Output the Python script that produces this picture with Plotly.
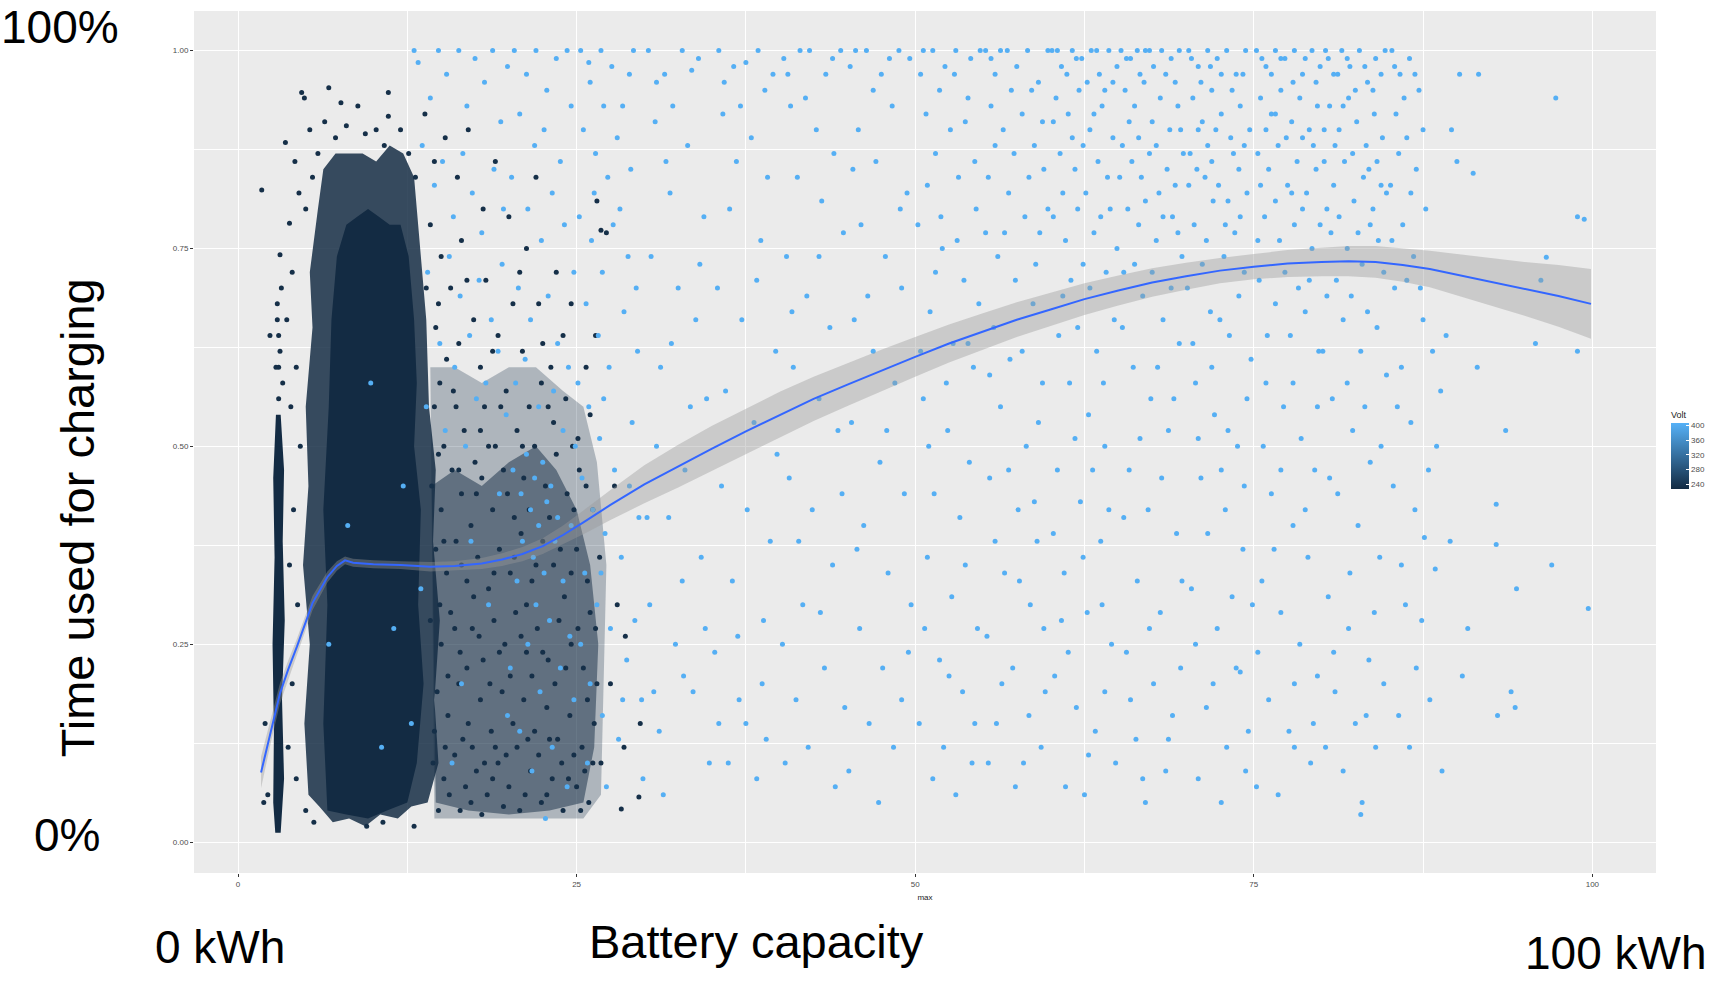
import plotly.graph_objects as go

# ---------------- data ----------------
# smooth (loess) fit and its confidence band
smooth_x = [1.7, 2.4, 3.1, 3.7, 4.35, 5.5, 6.6, 7.3, 7.9, 8.5, 10.0, 12.0, 14.2, 16.0, 18.0, 19.5, 21.0, 22.5,
            24.0, 25.5, 27.5, 30.0, 32.5, 35.0, 37.5, 40.0, 42.5, 45.0, 47.5, 50.0, 52.5, 55.0, 57.5, 60.0,
            62.5, 65.0, 67.5, 70.0, 72.5, 75.0, 77.5, 80.0, 82.0, 84.0, 86.0, 88.0, 90.0, 92.5, 95.0, 97.5, 99.9]
smooth_y = [0.088, 0.140, 0.188, 0.218, 0.247, 0.302, 0.335, 0.349, 0.356, 0.353, 0.351, 0.350, 0.348, 0.349,
            0.352, 0.357, 0.364, 0.374, 0.388, 0.404, 0.426, 0.452, 0.475, 0.497, 0.519, 0.540, 0.560, 0.578,
            0.596, 0.613, 0.630, 0.645, 0.660, 0.673, 0.686, 0.697, 0.707, 0.715, 0.722, 0.727, 0.731, 0.733,
            0.734, 0.733, 0.729, 0.724, 0.717, 0.708, 0.699, 0.690, 0.680]
smooth_lo = [0.068, 0.124, 0.175, 0.207, 0.237, 0.293, 0.328, 0.343, 0.351, 0.348, 0.346, 0.345, 0.342, 0.343,
             0.345, 0.349, 0.355, 0.364, 0.376, 0.389, 0.407, 0.428, 0.448, 0.468, 0.490, 0.511, 0.532, 0.551,
             0.570, 0.588, 0.606, 0.622, 0.638, 0.652, 0.666, 0.678, 0.689, 0.698, 0.706, 0.711, 0.714, 0.715,
             0.715, 0.713, 0.708, 0.701, 0.691, 0.678, 0.665, 0.651, 0.636]
smooth_hi = [0.108, 0.156, 0.201, 0.229, 0.257, 0.311, 0.342, 0.355, 0.361, 0.358, 0.356, 0.355, 0.354, 0.355,
             0.359, 0.365, 0.373, 0.384, 0.400, 0.419, 0.445, 0.476, 0.502, 0.526, 0.548, 0.569, 0.588, 0.605,
             0.622, 0.638, 0.654, 0.668, 0.682, 0.694, 0.706, 0.716, 0.725, 0.732, 0.738, 0.743, 0.748, 0.751,
             0.753, 0.753, 0.750, 0.747, 0.743, 0.738, 0.733, 0.729, 0.724]

# outlines of the overplotted (solid) low-voltage clusters
outer_x = [5.2, 4.9, 5.3, 4.8, 5.2, 5.0, 5.5, 5.3, 5.9, 6.3, 7.2, 8.2, 9.2, 10.2, 11.2, 12.2, 13.0, 13.4,
           13.9, 14.1, 14.6, 14.4, 14.9, 14.5, 14.8, 14.0, 12.8, 11.8, 10.5, 9.4, 8.2, 7.0, 6.0]
outer_y = [0.06, 0.15, 0.25, 0.35, 0.45, 0.55, 0.65, 0.72, 0.80, 0.85, 0.87, 0.87, 0.87, 0.86, 0.88, 0.87,
           0.84, 0.76, 0.66, 0.55, 0.47, 0.38, 0.28, 0.18, 0.10, 0.05, 0.045, 0.03, 0.035, 0.02, 0.03, 0.025, 0.045]
core_x = [6.6, 6.3, 6.6, 6.3, 6.7, 6.9, 7.3, 8.0, 8.8, 9.6, 10.4, 11.2, 12.0, 12.6, 13.0, 13.2, 13.0, 13.5,
          13.3, 13.7, 13.2, 12.5, 11.0, 9.6, 8.0]
core_y = [0.04, 0.15, 0.30, 0.42, 0.55, 0.66, 0.74, 0.78, 0.79, 0.80, 0.79, 0.78, 0.78, 0.74, 0.66, 0.58, 0.50,
          0.42, 0.30, 0.20, 0.10, 0.05, 0.04, 0.03, 0.035]
column_x = [2.75, 3.15, 3.4, 3.25, 3.45, 3.3, 3.4, 3.15, 2.8, 2.6, 2.7, 2.55, 2.65, 2.6]
column_y = [0.012, 0.012, 0.08, 0.18, 0.28, 0.38, 0.47, 0.54, 0.54, 0.46, 0.36, 0.25, 0.14, 0.05]
speckle_x = [14.2, 16.0, 18.0, 20.0, 22.0, 24.0, 25.5, 26.5, 27.2, 27.0, 26.8, 25.5, 14.5]
speckle_y = [0.60, 0.60, 0.58, 0.60, 0.60, 0.57, 0.55, 0.48, 0.35, 0.20, 0.06, 0.03, 0.03]
speckle_core_x = [14.3, 16.0, 18.0, 20.0, 22.0, 23.5, 25.0, 26.0, 26.6, 26.3, 25.5, 23.0, 20.0, 17.0, 14.6]
speckle_core_y = [0.45, 0.47, 0.45, 0.48, 0.50, 0.47, 0.42, 0.35, 0.25, 0.12, 0.05, 0.04, 0.035, 0.04, 0.05]

# individual low-voltage points
dark_pts = [
    (1.75, 0.824), (2.36, 0.64), (3.1, 0.742), (3.5, 0.884), (3.8, 0.782), (4.7, 0.947), (4.9, 0.94), (6.7, 0.953),
    (7.6, 0.934), (8.85, 0.93), (11.1, 0.947), (11.1, 0.917), (5.3, 0.9), (5.9, 0.87), (6.4, 0.91), (7.2, 0.89),
    (8.0, 0.905), (9.4, 0.895), (10.2, 0.9), (10.8, 0.88), (12.0, 0.9), (12.6, 0.87), (13.1, 0.84), (4.2, 0.86),
    (4.5, 0.82), (5.0, 0.8), (5.5, 0.84), (4.0, 0.72), (3.6, 0.66), (4.3, 0.6), (3.9, 0.55), (4.6, 0.5), (4.1, 0.42),
    (3.8, 0.35), (4.4, 0.3), (4.0, 0.2), (3.7, 0.12), (4.3, 0.08), (1.9, 0.05), (2.0, 0.15), (2.2, 0.06), (5.0, 0.04),
    (5.6, 0.025), (9.5, 0.02), (10.7, 0.025), (13.0, 0.02), (14.8, 0.04), (3.0, 0.6), (2.9, 0.66), (3.2, 0.7),
    (2.8, 0.6), (3.0, 0.64), (3.3, 0.58), (2.9, 0.68), (3.0, 0.56), (3.1, 0.62),
    (13.8, 0.92), (14.5, 0.86), (15.3, 0.89), (16.2, 0.84), (17.0, 0.9), (18.1, 0.8), (19.0, 0.86), (20.0, 0.79),
    (21.3, 0.75), (22.0, 0.84), (23.5, 0.72), (24.6, 0.68), (26.8, 0.773), (27.2, 0.77), (26.5, 0.81), (14.2, 0.78),
    (15.0, 0.74), (15.7, 0.7), (16.5, 0.76), (17.4, 0.66), (18.3, 0.71), (19.2, 0.64), (20.3, 0.68), (21.0, 0.62),
    (22.5, 0.63), (23.1, 0.6), (14.6, 0.65), (15.4, 0.61), (16.3, 0.63), (17.9, 0.6), (13.9, 0.7),
    (14.8, 0.68), (16.9, 0.71), (18.8, 0.62), (20.8, 0.72), (22.2, 0.68), (24.0, 0.64), (25.7, 0.6), (26.4, 0.64),
    (14.5, 0.55), (15.2, 0.5), (15.9, 0.57), (16.7, 0.52), (17.5, 0.48), (18.2, 0.55), (19.0, 0.5), (19.8, 0.57),
    (20.6, 0.52), (21.5, 0.55), (22.4, 0.58), (23.3, 0.53), (24.2, 0.56), (25.1, 0.51), (26.0, 0.54),
    (14.3, 0.45), (15.0, 0.42), (15.8, 0.47), (16.5, 0.44), (17.2, 0.4), (18.0, 0.46), (18.8, 0.42), (19.6, 0.47),
    (20.4, 0.41), (21.1, 0.46), (21.9, 0.5), (22.7, 0.45), (23.5, 0.49), (24.3, 0.44), (25.2, 0.47), (26.2, 0.42),
    (14.6, 0.37), (15.4, 0.34), (16.1, 0.38), (16.9, 0.33), (17.7, 0.36), (18.5, 0.32), (19.3, 0.37), (20.1, 0.34),
    (20.9, 0.39), (21.7, 0.33), (22.5, 0.38), (23.3, 0.35), (24.1, 0.31), (25.0, 0.37), (25.8, 0.33), (26.7, 0.36),
    (14.2, 0.28), (15.0, 0.25), (15.7, 0.29), (16.4, 0.24), (17.3, 0.27), (18.1, 0.23), (18.9, 0.28), (19.7, 0.25),
    (20.5, 0.29), (21.3, 0.24), (22.1, 0.27), (22.9, 0.23), (23.7, 0.28), (24.6, 0.25), (25.5, 0.22), (26.4, 0.27),
    (14.7, 0.19), (15.5, 0.16), (16.3, 0.2), (17.0, 0.15), (17.9, 0.18), (18.7, 0.14), (19.5, 0.19), (20.3, 0.15),
    (21.1, 0.18), (21.9, 0.14), (22.8, 0.17), (23.6, 0.13), (24.5, 0.16), (25.4, 0.12), (26.3, 0.15),
    (14.4, 0.1), (15.2, 0.08), (16.0, 0.11), (16.8, 0.07), (17.6, 0.09), (18.4, 0.06), (19.2, 0.1), (20.0, 0.07),
    (20.8, 0.04), (21.6, 0.09), (22.4, 0.05), (23.2, 0.08), (24.0, 0.04), (25.0, 0.07), (25.9, 0.05), (26.8, 0.1),
    (14.9, 0.58), (16.1, 0.55), (17.9, 0.52), (19.4, 0.55), (21.0, 0.5), (22.9, 0.55), (24.7, 0.5),
    (14.8, 0.49), (16.3, 0.47), (17.6, 0.44), (18.5, 0.5), (19.9, 0.44), (21.5, 0.42), (23.0, 0.41), (24.8, 0.42),
    (25.7, 0.45), (15.2, 0.38), (16.5, 0.35), (17.4, 0.31), (18.9, 0.34), (20.4, 0.36), (21.3, 0.3), (22.0, 0.35),
    (23.8, 0.37), (24.6, 0.34), (26.0, 0.29), (14.9, 0.3), (15.5, 0.21), (16.0, 0.27), (16.9, 0.22), (17.8, 0.26),
    (18.6, 0.2), (19.3, 0.24), (20.1, 0.21), (20.9, 0.26), (21.7, 0.21), (22.5, 0.24), (23.4, 0.2), (24.2, 0.22),
    (25.1, 0.27), (25.8, 0.18), (14.5, 0.14), (15.3, 0.12), (16.6, 0.13), (17.3, 0.12), (18.2, 0.1), (19.0, 0.12),
    (19.8, 0.11), (20.6, 0.12), (21.4, 0.13), (22.2, 0.11), (23.0, 0.13), (23.9, 0.1), (24.8, 0.11), (25.6, 0.09),
    (26.5, 0.2), (15.6, 0.06), (16.4, 0.04), (17.2, 0.05), (18.0, 0.035), (18.8, 0.08), (19.6, 0.045), (21.2, 0.06),
    (22.8, 0.06), (24.4, 0.08), (25.3, 0.04), (26.2, 0.1),
    (28.5, 0.12), (29.6, 0.057), (28.3, 0.042), (29.7, 0.15), (27.5, 0.2), (28.0, 0.3), (27.8, 0.45), (28.6, 0.26),
]

# individual high-voltage points
blue_pts = [
    (13.0, 1.0), (13.3, 0.985), (14.2, 0.94), (14.8, 1.0), (15.4, 0.97), (16.3, 1.0), (16.9, 0.93), (17.5, 0.99),
    (18.2, 0.96), (18.8, 1.0), (19.4, 0.91), (19.9, 0.98), (13.6, 0.88), (14.5, 0.83), (15.1, 0.86), (15.9, 0.79),
    (16.6, 0.87), (17.3, 0.82), (18.0, 0.77), (18.9, 0.85), (19.6, 0.8), (14.0, 0.72), (15.6, 0.74), (16.4, 0.69),
    (17.8, 0.71), (18.7, 0.66), (19.5, 0.73), (14.9, 0.63), (16.0, 0.6), (17.1, 0.64), (18.3, 0.58), (19.2, 0.62),
    (13.9, 0.55), (15.3, 0.52), (16.8, 0.5), (17.6, 0.56), (19.8, 0.54), (12.2, 0.45), (11.5, 0.27), (9.8, 0.58),
    (8.1, 0.4), (12.8, 0.15), (10.6, 0.12), (6.7, 0.25), (13.5, 0.32), (15.8, 0.1), (16.5, 0.2), (17.2, 0.38),
    (18.5, 0.3), (19.3, 0.44), (19.9, 0.16),
    (20.4, 1.0), (21.3, 0.97), (22.0, 1.0), (22.8, 0.95), (23.5, 0.99), (24.3, 1.0), (20.8, 0.92), (21.9, 0.88),
    (22.6, 0.9), (23.8, 0.86), (24.6, 0.93), (20.2, 0.84), (21.4, 0.8), (22.4, 0.76), (23.2, 0.82), (24.1, 0.78),
    (24.8, 0.72), (20.7, 0.7), (21.6, 0.66), (22.9, 0.69), (23.6, 0.63), (24.4, 0.6), (20.5, 0.58), (21.2, 0.61),
    (22.2, 0.55), (23.3, 0.57), (24.0, 0.52), (24.9, 0.5), (20.3, 0.47), (20.9, 0.44), (21.3, 0.49), (21.6, 0.42),
    (21.9, 0.46), (22.2, 0.4), (22.5, 0.48), (22.8, 0.43), (23.1, 0.45), (23.4, 0.38), (21.0, 0.38), (21.8, 0.36),
    (22.6, 0.34), (23.6, 0.41), (20.6, 0.33), (22.0, 0.3), (23.0, 0.28), (21.4, 0.25), (24.0, 0.33), (24.5, 0.26),
    (23.8, 0.22), (22.3, 0.19), (20.8, 0.14), (21.7, 0.09), (23.2, 0.12), (24.3, 0.07), (22.7, 0.03), (24.8, 0.18),
    (20.1, 0.22), (24.6, 0.4),
    (25.3, 1.0), (26.0, 0.96), (26.8, 1.0), (27.6, 0.98), (28.4, 0.93), (29.2, 1.0), (25.5, 0.9), (26.4, 0.87),
    (27.3, 0.84), (28.0, 0.89), (29.0, 0.85), (25.2, 0.79), (26.1, 0.76), (26.9, 0.72), (27.7, 0.78), (28.8, 0.74),
    (25.7, 0.68), (26.6, 0.64), (27.4, 0.6), (28.5, 0.67), (29.5, 0.62), (25.1, 0.58), (25.9, 0.55), (26.7, 0.51),
    (27.8, 0.47), (29.1, 0.53), (25.4, 0.46), (26.2, 0.42), (27.1, 0.39), (28.3, 0.36), (29.6, 0.41), (25.6, 0.34),
    (26.5, 0.3), (27.5, 0.27), (28.7, 0.23), (25.3, 0.25), (26.0, 0.2), (26.9, 0.16), (28.1, 0.13), (29.3, 0.28),
    (25.8, 0.1), (27.2, 0.07), (29.8, 0.18),
    (25.9, 0.985), (27.0, 0.93), (28.9, 0.97), (26.3, 0.82), (28.2, 0.8), (29.4, 0.7), (27.0, 0.56), (28.9, 0.45),
    (26.8, 0.34), (28.4, 0.18), (29.9, 0.08),
    (30.3, 1.0), (31.5, 0.97), (32.8, 1.0), (34.0, 0.99), (30.8, 0.91), (33.2, 0.88), (31.9, 0.82), (34.4, 0.79),
    (30.5, 0.74), (32.5, 0.7), (33.8, 0.66), (31.2, 0.6), (34.6, 0.56), (30.9, 0.5), (33.0, 0.47), (31.8, 0.41),
    (34.2, 0.36), (30.4, 0.3), (32.3, 0.25), (33.6, 0.19), (31.1, 0.14), (34.8, 0.1), (32.9, 0.21), (30.7, 0.19),
    (30.9, 0.96), (32.1, 0.93), (33.5, 0.975), (31.6, 0.86), (34.1, 0.73), (32.0, 0.63), (33.4, 0.55), (30.2, 0.41),
    (32.8, 0.33), (34.5, 0.27), (31.4, 0.06),
    (35.5, 1.0), (36.6, 0.98), (37.5, 0.985), (38.4, 1.0), (39.5, 0.97), (35.8, 0.92), (37.9, 0.89), (39.1, 0.84),
    (36.3, 0.8), (38.6, 0.76), (35.4, 0.7), (37.2, 0.66), (39.7, 0.62), (36.0, 0.57), (38.1, 0.53), (35.7, 0.45),
    (37.6, 0.42), (39.3, 0.38), (36.5, 0.33), (38.8, 0.28), (35.2, 0.24), (37.0, 0.18), (39.0, 0.13), (36.2, 0.1),
    (38.3, 0.08), (37.5, 0.15),
    (35.9, 0.96), (37.1, 0.93), (38.9, 0.95), (36.8, 0.86), (38.3, 0.71), (39.8, 0.49), (36.9, 0.26), (35.5, 0.15),
    (38.7, 0.2),
    (40.3, 0.99), (41.5, 1.0), (42.2, 1.0), (43.4, 0.97), (44.5, 1.0), (40.8, 0.93), (42.7, 0.9), (44.0, 0.87),
    (41.3, 0.84), (43.1, 0.81), (44.7, 0.77), (40.5, 0.74), (42.0, 0.69), (43.7, 0.65), (41.0, 0.6), (42.9, 0.56),
    (44.3, 0.52), (40.7, 0.46), (42.4, 0.42), (43.9, 0.35), (41.7, 0.3), (40.2, 0.25), (43.3, 0.22), (44.8, 0.17),
    (42.1, 0.12), (44.1, 0.07), (41.2, 0.18),
    (40.6, 0.97), (41.9, 0.94), (43.9, 0.99), (42.9, 0.74), (40.9, 0.67), (44.6, 0.44), (41.4, 0.38), (43.0, 0.29),
    (40.4, 0.1),
    (45.2, 0.98), (46.4, 1.0), (47.5, 0.97), (48.8, 1.0), (49.6, 0.99), (45.8, 0.9), (47.1, 0.86), (48.3, 0.93),
    (49.4, 0.82), (46.0, 0.78), (47.8, 0.74), (49.0, 0.7), (45.5, 0.66), (46.9, 0.62), (48.5, 0.58), (45.3, 0.53),
    (47.4, 0.48), (49.2, 0.44), (46.2, 0.4), (48.0, 0.34), (49.7, 0.3), (45.9, 0.27), (47.6, 0.22), (49.0, 0.18),
    (46.6, 0.15), (48.4, 0.12), (45.1, 0.09),
    (45.6, 1.0), (46.9, 0.95), (48.1, 0.99), (45.4, 0.85), (48.9, 0.8), (46.5, 0.69), (47.9, 0.52), (45.7, 0.37),
    (49.5, 0.24), (47.3, 0.05),
    (50.4, 0.97), (51.3, 1.0), (52.2, 0.98), (53.0, 1.0), (54.1, 0.99), (54.8, 1.0), (50.8, 0.92), (52.6, 0.9),
    (53.9, 0.94), (51.5, 0.87), (53.2, 0.84), (54.5, 0.8), (50.2, 0.78), (52.0, 0.75), (53.6, 0.71), (51.1, 0.67),
    (52.8, 0.63), (54.3, 0.6), (50.6, 0.56), (52.4, 0.52), (54.0, 0.48), (51.4, 0.44), (53.3, 0.41), (50.9, 0.36),
    (52.7, 0.31), (54.6, 0.27), (51.8, 0.23), (53.5, 0.19), (50.3, 0.15), (52.1, 0.12), (54.2, 0.1), (53.0, 0.06),
    (50.6, 1.0), (51.8, 0.95), (52.9, 0.97), (53.7, 0.91), (54.4, 0.86), (50.9, 0.83), (51.9, 0.79), (53.1, 0.76),
    (54.7, 0.68), (51.5, 0.72), (53.9, 0.63), (50.4, 0.62), (52.3, 0.58), (51.0, 0.5), (53.7, 0.35), (50.7, 0.27),
    (52.5, 0.21), (54.4, 0.15), (51.3, 0.08),
    (55.2, 1.0), (55.9, 0.97), (56.8, 1.0), (57.5, 0.98), (58.3, 1.0), (59.1, 0.96), (59.8, 1.0), (55.6, 0.93),
    (56.5, 0.9), (57.9, 0.92), (58.8, 0.88), (59.5, 0.85), (55.4, 0.84), (56.9, 0.82), (58.1, 0.79), (59.2, 0.77),
    (56.1, 0.74), (57.4, 0.71), (58.7, 0.68), (55.8, 0.65), (57.0, 0.61), (59.4, 0.58), (56.3, 0.55), (58.2, 0.5),
    (55.5, 0.46), (57.6, 0.42), (59.0, 0.38), (56.6, 0.34), (58.5, 0.3), (55.3, 0.26), (57.2, 0.22), (59.6, 0.19),
    (56.0, 0.15), (58.0, 0.1), (57.4, 0.07), (59.3, 0.12),
    (55.6, 0.99), (56.3, 1.0), (57.1, 0.95), (58.6, 0.95), (59.4, 0.91), (55.9, 0.88), (57.3, 0.87), (58.4, 0.84),
    (59.8, 0.8), (55.2, 0.77), (56.6, 0.77), (58.9, 0.73), (55.5, 0.59), (57.9, 0.62), (59.1, 0.53), (56.9, 0.47),
    (58.8, 0.43), (55.9, 0.38), (57.7, 0.33), (59.5, 0.27), (56.4, 0.2), (58.4, 0.16), (55.4, 0.1),
    (60.1, 1.0), (60.8, 0.98), (61.6, 1.0), (62.3, 0.99), (63.0, 1.0), (63.6, 0.97), (64.3, 1.0), (64.9, 0.98),
    (60.4, 0.94), (61.3, 0.92), (62.1, 0.95), (62.9, 0.9), (63.8, 0.93), (64.6, 0.89), (60.7, 0.87), (61.8, 0.85),
    (62.6, 0.82), (63.5, 0.86), (64.4, 0.8), (60.2, 0.79), (61.1, 0.76), (62.4, 0.73), (63.2, 0.77), (64.1, 0.72),
    (60.9, 0.69), (62.0, 0.65), (63.4, 0.62), (64.7, 0.66), (61.4, 0.58), (62.8, 0.54), (64.0, 0.5), (60.5, 0.47),
    (62.2, 0.43), (63.7, 0.38), (61.0, 0.34), (62.7, 0.29), (64.5, 0.25), (60.3, 0.21), (61.9, 0.17), (63.3, 0.14),
    (64.8, 0.1), (62.5, 0.06), (60.8, 0.28),
    (60.5, 1.0), (61.2, 0.97), (61.9, 0.99), (62.7, 0.96), (63.4, 1.0), (64.0, 0.95), (64.6, 0.96), (60.2, 0.91),
    (61.6, 0.89), (62.4, 0.88), (63.2, 0.92), (64.2, 0.84), (60.9, 0.82), (62.0, 0.8), (63.7, 0.79), (64.9, 0.75),
    (61.5, 0.71), (62.9, 0.7), (60.6, 0.64), (63.9, 0.58), (61.8, 0.51), (63.1, 0.47), (64.3, 0.42), (60.2, 0.39),
    (62.4, 0.36), (63.8, 0.3), (61.3, 0.24), (64.0, 0.19), (62.8, 0.11), (61.1, 0.07),
    (65.2, 1.0), (65.9, 0.99), (66.4, 1.0), (67.0, 1.0), (67.6, 0.98), (68.2, 1.0), (68.9, 0.99), (69.5, 1.0),
    (65.5, 0.95), (66.2, 0.93), (66.9, 0.96), (67.5, 0.91), (68.1, 0.94), (68.8, 0.9), (69.4, 0.93), (65.3, 0.88),
    (66.0, 0.86), (66.7, 0.84), (67.3, 0.87), (68.0, 0.82), (68.6, 0.85), (69.2, 0.83), (69.8, 0.87), (65.7, 0.8),
    (66.5, 0.78), (67.8, 0.76), (69.0, 0.79), (69.7, 0.74), (65.4, 0.72), (66.8, 0.69), (68.3, 0.66), (69.5, 0.63),
    (66.1, 0.6), (67.4, 0.56), (68.7, 0.52), (65.8, 0.47), (67.2, 0.42), (69.3, 0.39), (66.4, 0.33), (68.1, 0.29),
    (65.6, 0.24), (67.6, 0.2), (69.0, 0.16), (66.3, 0.13), (68.5, 0.09), (67.0, 0.05), (69.6, 0.22),
    (65.6, 0.99), (66.6, 0.97), (67.3, 1.0), (68.5, 0.97), (69.2, 0.96), (65.8, 0.91), (66.5, 0.89), (67.8, 0.88),
    (69.6, 0.9), (65.1, 0.84), (67.0, 0.81), (68.3, 0.79), (69.4, 0.77), (66.2, 0.73), (67.5, 0.72), (68.9, 0.7),
    (65.3, 0.65), (67.9, 0.6), (69.1, 0.56), (66.6, 0.51), (68.2, 0.46), (65.4, 0.41), (69.7, 0.33), (67.3, 0.27),
    (65.9, 0.18), (68.7, 0.13), (66.8, 0.08),
    (70.2, 1.0), (70.9, 0.98), (71.6, 1.0), (72.3, 0.99), (73.0, 1.0), (73.7, 0.97), (74.4, 1.0), (70.5, 0.94),
    (71.2, 0.91), (71.9, 0.95), (72.6, 0.92), (73.3, 0.89), (74.0, 0.93), (74.7, 0.9), (70.3, 0.87), (70.8, 0.85),
    (71.4, 0.84), (71.9, 0.86), (72.4, 0.83), (73.1, 0.81), (73.9, 0.85), (74.5, 0.82), (70.6, 0.78), (71.5, 0.76),
    (72.8, 0.74), (73.6, 0.77), (74.3, 0.72), (70.1, 0.7), (71.8, 0.67), (73.2, 0.64), (74.8, 0.61), (70.7, 0.58),
    (72.1, 0.54), (73.8, 0.5), (71.1, 0.46), (72.9, 0.42), (74.2, 0.37), (70.4, 0.32), (72.3, 0.27), (73.7, 0.22),
    (74.0, 0.215), (71.5, 0.17), (73.0, 0.12), (70.9, 0.08), (74.6, 0.14), (72.6, 0.05), (74.9, 0.3),
    (70.4, 0.99), (71.1, 0.96), (71.8, 0.98), (72.6, 0.97), (73.4, 0.95), (74.2, 0.97), (70.9, 0.9), (71.6, 0.88),
    (72.2, 0.9), (73.5, 0.87), (74.3, 0.88), (70.2, 0.83), (72.0, 0.81), (72.9, 0.78), (74.0, 0.79), (71.2, 0.73),
    (73.9, 0.69), (72.5, 0.66), (70.5, 0.63), (71.9, 0.6), (74.5, 0.56), (73.1, 0.52), (70.9, 0.51), (72.6, 0.47),
    (74.3, 0.45), (71.6, 0.39), (73.4, 0.31), (70.7, 0.25), (72.0, 0.2), (74.4, 0.09),
    (75.2, 1.0), (75.9, 0.98), (76.6, 1.0), (77.3, 0.99), (78.0, 1.0), (78.6, 0.97), (79.3, 1.0), (79.9, 0.98),
    (75.5, 0.94), (76.3, 0.92), (77.0, 0.95), (77.8, 0.91), (78.4, 0.94), (79.1, 0.9), (79.7, 0.93), (75.3, 0.87),
    (76.1, 0.85), (76.8, 0.88), (77.5, 0.83), (78.2, 0.86), (78.9, 0.82), (79.6, 0.85), (75.8, 0.79), (76.9, 0.76),
    (78.0, 0.78), (79.3, 0.75), (75.4, 0.71), (76.6, 0.68), (77.7, 0.64), (78.8, 0.67), (79.8, 0.62), (75.9, 0.58),
    (77.2, 0.55), (78.5, 0.51), (79.5, 0.47), (76.3, 0.44), (77.9, 0.4), (79.0, 0.36), (75.6, 0.33), (77.0, 0.29),
    (78.4, 0.25), (79.7, 0.21), (76.1, 0.18), (77.6, 0.14), (79.2, 0.1), (75.2, 0.07), (78.0, 0.12),
    (75.6, 0.99), (76.3, 0.97), (77.0, 0.99), (77.9, 0.96), (78.8, 0.99), (79.6, 0.96), (75.9, 0.9), (76.6, 0.92),
    (77.4, 0.89), (78.6, 0.89), (79.4, 0.88), (75.5, 0.83), (76.6, 0.81), (77.8, 0.82), (78.6, 0.8), (79.9, 0.78),
    (75.3, 0.76), (77.3, 0.72), (78.3, 0.7), (79.1, 0.71), (76.0, 0.64), (77.9, 0.58), (79.7, 0.55), (75.7, 0.5),
    (77.0, 0.47), (78.8, 0.42), (76.5, 0.37), (75.3, 0.24), (78.0, 0.2), (79.4, 0.15), (76.8, 0.06),
    (80.3, 1.0), (80.9, 0.97), (81.5, 1.0), (82.1, 0.98), (82.8, 1.0), (83.4, 0.96), (84.0, 0.99), (84.7, 1.0),
    (80.6, 0.93), (81.3, 0.9), (82.0, 0.94), (82.6, 0.91), (83.3, 0.88), (83.9, 0.92), (84.5, 0.89), (80.2, 0.86),
    (80.9, 0.83), (81.7, 0.86), (82.4, 0.81), (83.1, 0.84), (83.8, 0.8), (84.4, 0.83), (80.7, 0.77), (81.9, 0.75),
    (83.0, 0.73), (84.2, 0.76), (80.4, 0.69), (81.6, 0.66), (82.9, 0.62), (84.1, 0.65), (84.8, 0.59), (80.8, 0.56),
    (82.3, 0.52), (83.6, 0.48), (81.2, 0.44), (82.7, 0.4), (84.3, 0.36), (80.5, 0.31), (82.0, 0.27), (83.5, 0.23),
    (81.0, 0.19), (82.5, 0.15), (84.0, 0.12), (81.6, 0.09), (83.0, 0.05), (84.6, 0.2), (82.9, 0.035),
    (80.5, 0.99), (81.2, 0.97), (81.9, 0.99), (82.5, 0.95), (83.2, 0.98), (83.8, 0.95), (84.4, 0.97), (80.2, 0.9),
    (81.0, 0.88), (81.6, 0.93), (82.3, 0.87), (83.5, 0.85), (84.1, 0.86), (84.8, 0.82), (80.4, 0.8), (81.3, 0.79),
    (82.7, 0.77), (83.6, 0.78), (84.6, 0.72), (81.1, 0.71), (82.2, 0.69), (83.4, 0.67), (80.1, 0.62), (81.9, 0.58),
    (83.2, 0.55), (84.4, 0.5), (80.6, 0.46), (82.1, 0.34), (83.9, 0.29), (80.9, 0.24), (83.3, 0.16), (80.3, 0.12),
    (85.2, 1.0), (85.8, 0.97), (86.5, 0.99), (87.2, 0.95), (85.5, 0.92), (86.3, 0.89), (87.0, 0.85), (85.1, 0.83),
    (86.0, 0.78), (86.8, 0.74), (85.4, 0.7), (87.5, 0.66), (85.9, 0.6), (88.8, 0.57), (86.6, 0.53), (87.6, 0.385),
    (85.3, 0.45), (88.4, 0.345), (86.2, 0.3), (87.0, 0.22), (85.7, 0.16), (88.0, 0.18), (89.6, 0.9), (89.2, 0.64),
    (87.9, 0.47), (89.5, 0.38),
    (85.4, 0.98), (86.1, 0.94), (86.9, 0.97), (87.5, 0.9), (85.7, 0.87), (86.6, 0.82), (87.7, 0.8), (85.2, 0.76),
    (86.3, 0.71), (87.3, 0.7), (88.2, 0.62), (85.6, 0.55), (86.9, 0.42), (88.5, 0.5), (85.9, 0.35), (87.4, 0.28),
    (86.5, 0.12), (88.9, 0.09),
    (90.2, 0.97), (91.6, 0.97), (90.0, 0.86), (91.2, 0.845), (90.4, 0.21), (90.8, 0.27), (92.9, 0.376),
    (92.9, 0.427), (94.4, 0.32), (94.0, 0.19), (94.3, 0.17), (93.0, 0.16), (96.6, 0.739), (97.3, 0.94),
    (98.9, 0.79), (99.4, 0.787), (98.9, 0.62), (99.7, 0.295), (95.8, 0.63), (96.2, 0.71), (97.0, 0.35),
    (93.6, 0.52), (91.5, 0.6),
]

dark_volt = 232
blue_volt = 404
colorbar_ticks = [240, 280, 320, 360, 400]
x_ticks = [0, 25, 50, 75, 100]
y_ticks = [0.0, 0.25, 0.5, 0.75, 1.0]
y_ticklabels = ["0.00", "0.25", "0.50", "0.75", "1.00"]

NAVY = "#132B43"
FONT = "Liberation Sans, Arial, sans-serif"

fig = go.Figure()

# overplotted clusters
def add_area(xs, ys, color):
    fig.add_trace(go.Scatter(x=xs, y=ys, fill="toself", mode="lines", line=dict(width=0),
                             fillcolor=color, hoverinfo="skip", showlegend=False))

add_area(speckle_x, speckle_y, "rgba(19,43,67,0.28)")
add_area(speckle_core_x, speckle_core_y, "rgba(19,43,67,0.5)")
add_area(outer_x, outer_y, "rgba(19,43,67,0.84)")
add_area(core_x, core_y, NAVY)
add_area(column_x, column_y, NAVY)

# points
fig.add_trace(go.Scatter(
    x=[p[0] for p in dark_pts], y=[p[1] for p in dark_pts], mode="markers",
    marker=dict(size=5, color=[dark_volt] * len(dark_pts), coloraxis="coloraxis", line=dict(width=0)),
    showlegend=False))
fig.add_trace(go.Scatter(
    x=[p[0] for p in blue_pts], y=[p[1] for p in blue_pts], mode="markers",
    marker=dict(size=5, color=[blue_volt] * len(blue_pts), coloraxis="coloraxis", line=dict(width=0)),
    showlegend=False))

# smooth band + line
fig.add_trace(go.Scatter(x=smooth_x + smooth_x[::-1], y=smooth_hi + smooth_lo[::-1], fill="toself",
                         mode="lines", line=dict(width=0), fillcolor="rgba(153,153,153,0.4)",
                         hoverinfo="skip", showlegend=False))
fig.add_trace(go.Scatter(x=smooth_x, y=smooth_y, mode="lines", line=dict(color="#3366FF", width=2),
                         showlegend=False))

axis_common = dict(
    showgrid=True, gridcolor="white", gridwidth=1.2, zeroline=False,
    ticks="outside", ticklen=3, tickcolor="#333333", tickwidth=1,
    tickfont=dict(family=FONT, size=8, color="#4D4D4D"), showline=False,
)

fig.update_layout(
    width=1719, height=981,
    margin=dict(l=194, r=61, t=11, b=108),
    paper_bgcolor="white", plot_bgcolor="#EBEBEB",
    font=dict(family=FONT),
    xaxis=dict(range=[-3.25, 104.7], tickmode="array", tickvals=x_ticks,
               minor=dict(tickmode="array", tickvals=[12.5, 37.5, 62.5, 87.5], showgrid=True,
                          gridcolor="white", gridwidth=0.6, ticks=""),
               title=dict(text="max", font=dict(family=FONT, size=8, color="#222222"), standoff=6),
               **axis_common),
    yaxis=dict(range=[-0.039, 1.05], tickmode="array", tickvals=y_ticks, ticktext=y_ticklabels,
               minor=dict(tickmode="array", tickvals=[0.125, 0.375, 0.625, 0.875], showgrid=True,
                          gridcolor="white", gridwidth=0.6, ticks=""),
               **axis_common),
    coloraxis=dict(
        cmin=227, cmax=407,
        colorscale=[[0, "#132B43"], [1, "#56B1F7"]],
        colorbar=dict(
            title=dict(text="Volt", side="top", font=dict(family=FONT, size=9, color="#222222")),
            x=1.0102, xanchor="left", y=0.4925, yanchor="middle",
            len=81, lenmode="pixels", thickness=18, thicknessmode="pixels",
            outlinewidth=0, tickmode="array", tickvals=colorbar_ticks,
            ticks="inside", ticklen=3, tickcolor="white",
            tickfont=dict(family=FONT, size=8, color="#4D4D4D"), xpad=0, ypad=0,
        ),
    ),
)

big = dict(family=FONT, size=46, color="black")
bigger = dict(family=FONT, size=47, color="black")
ann = [
    dict(text="100%", x=-0.0915, y=0.9814, font=big),
    dict(text="0%", x=-0.0867, y=0.0441, font=big),
    dict(text="0 kWh", x=0.0178, y=-0.0858, font=big),
    dict(text="Battery capacity", x=0.3846, y=-0.0800, font=bigger),
    dict(text="100 kWh", x=0.9727, y=-0.0925, font=big),
]
for a in ann:
    fig.add_annotation(text=a["text"], x=a["x"], y=a["y"], xref="paper", yref="paper",
                       xanchor="center", yanchor="middle", showarrow=False, font=a["font"])
fig.add_annotation(text="Time used for charging", x=-0.0799, y=0.4118, xref="paper", yref="paper",
                   xanchor="center", yanchor="middle", showarrow=False, font=bigger, textangle=-90)

fig.write_html("out.html")
